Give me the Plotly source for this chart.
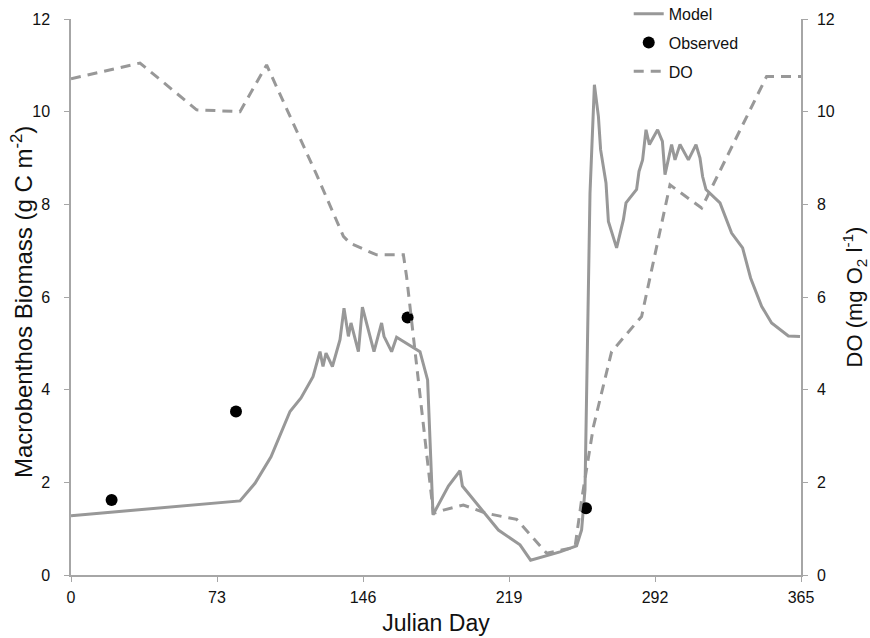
import plotly.graph_objects as go

# Model macrobenthos biomass (g C m-2)
model_day = [0, 84.5, 92, 100, 109.5, 115, 121, 124.5, 126, 127.5, 130.7, 134.5, 136.5, 138.7, 140,
             143.7, 145.7, 151.5, 155.3, 156.5, 160.3, 162.8, 174.5, 178.3, 181, 188.7, 194.5, 195.7,
             213.7, 224.5, 229.8, 244.5, 252.8, 255.3, 257, 259.5, 261.7, 263.7, 264.8, 267.5, 268.7,
             272.8, 276.2, 277.5, 282.8, 284, 285.8, 287.5, 289.2, 293.3, 295.7, 297, 300.3, 302,
             304.5, 308.7, 312.5, 314.5, 315.8, 317.5, 324.5, 330.3, 335.8, 339.8, 345.3, 350.3,
             358.7, 364.5]
model_val = [1.28, 1.60, 1.98, 2.55, 3.53, 3.82, 4.28, 4.82, 4.50, 4.79, 4.50, 5.08, 5.76, 5.15, 5.44,
             4.82, 5.78, 4.82, 5.44, 5.15, 4.82, 5.13, 4.82, 4.21, 1.30, 1.92, 2.25, 1.92,
             0.97, 0.65, 0.32, 0.50, 0.63, 0.97, 1.84, 8.24, 10.58, 9.90, 9.18, 8.46, 7.63,
             7.06, 7.67, 8.03, 8.32, 8.71, 8.96, 9.61, 9.29, 9.61, 9.36, 8.64, 9.29, 8.96,
             9.29, 8.96, 9.29, 9.00, 8.60, 8.32, 8.03, 7.38, 7.06, 6.41, 5.80, 5.44,
             5.16, 5.15]

# Observed biomass
obs_day = [20.3, 82.5, 168.3, 257.5]
obs_val = [1.62, 3.53, 5.56, 1.44]

# Dissolved oxygen (mg O2 l-1)
do_day = [0, 34.5, 62.8, 84.5, 97.8, 109.5, 122.8, 136.2, 139.5, 152.8, 166.2, 167.8, 172, 178.7,
          181.2, 186.2, 196.2, 207.8, 222.8, 237.8, 252, 255.3, 261.2, 270.3, 285.3, 299.5, 315.3,
          347.8, 365]
do_val = [10.71, 11.05, 10.04, 10.0, 11.01, 9.91, 8.64, 7.31, 7.16, 6.91, 6.91, 6.44, 4.86, 2.2,
          1.33, 1.40, 1.51, 1.33, 1.20, 0.47, 0.6, 1.62, 3.20, 4.82, 5.58, 8.42, 7.92,
          10.76, 10.76]

x_ticks = [0, 73, 146, 219, 292, 365]
y_ticks = [0, 2, 4, 6, 8, 10, 12]

left_title = "Macrobenthos Biomass (g C m<sup>-2</sup>)"
right_title = "DO (mg O<sub>2</sub> l<sup>-1</sup>)"

GRAY = "#989898"
FONT = "Liberation Sans, Arial, sans-serif"

fig = go.Figure()
fig.add_trace(go.Scatter(x=model_day, y=model_val, mode="lines", name="Model",
                         line=dict(color=GRAY, width=3), legendgroup="a"))
fig.add_trace(go.Scatter(x=obs_day, y=obs_val, mode="markers", name="Observed",
                         marker=dict(color="black", size=12), legendgroup="b"))
fig.add_trace(go.Scatter(x=do_day, y=do_val, mode="lines", name="DO", yaxis="y2",
                         line=dict(color=GRAY, width=3, dash="10px,7px"), legendgroup="c"))

axis_common = dict(showgrid=False, zeroline=False, showline=True, linecolor="#a6a6a6", linewidth=1.5,
                   ticks="outside", ticklen=5, tickcolor="#a6a6a6", automargin=False,
                   tickfont=dict(family=FONT, size=16, color="#111"))

fig.update_layout(
    width=870, height=638,
    margin=dict(l=71, r=69, t=19, b=63, autoexpand=False),
    paper_bgcolor="white", plot_bgcolor="white",
    font=dict(family=FONT, color="#111"),
    xaxis=dict(range=[0, 365], tickvals=x_ticks, ticktext=[str(t) for t in x_ticks], ticklabelstandoff=2,
               title=dict(text="Julian Day", font=dict(size=23), standoff=10), **axis_common),
    yaxis=dict(range=[0, 12], tickvals=y_ticks, ticklabelstandoff=11, **axis_common),
    yaxis2=dict(range=[0, 12], tickvals=y_ticks, overlaying="y", side="right", ticklabelstandoff=6,
                title=dict(text=right_title, font=dict(size=22), standoff=15),
                **axis_common),
    showlegend=True,
    legend=dict(x=0.764, y=1.04, xanchor="left", yanchor="top",
                bgcolor="rgba(0,0,0,0)",
                font=dict(family=FONT, size=16, color="#111"), tracegroupgap=5,
                itemwidth=30),
    annotations=[dict(text=left_title, textangle=-90, xref="paper", yref="paper",
                      x=0, y=0.5, xanchor="center", yanchor="middle", xshift=-49, yshift=-5,
                      showarrow=False, font=dict(family=FONT, size=24, color="#111"))],
)

fig.write_html("out.html", post_script="document.body.style.margin='0';",
               config={"displayModeBar": False})
